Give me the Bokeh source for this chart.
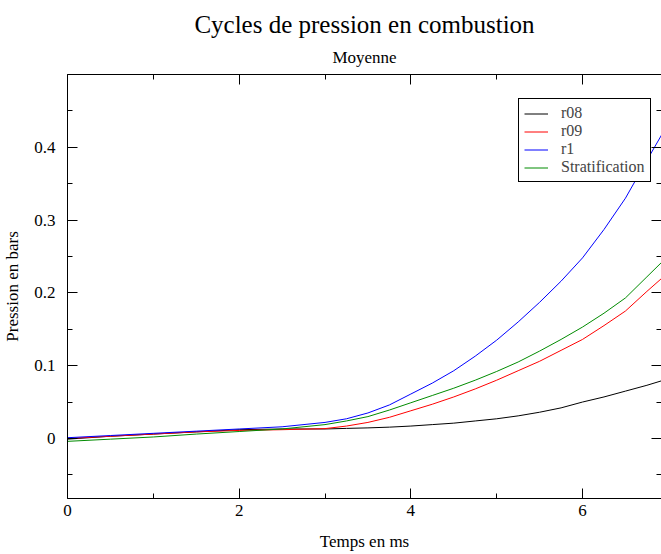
from bokeh.plotting import figure
from bokeh.models import (Range1d, LinearAxis, Title, SingleIntervalTicker,
                          CustomJSTickFormatter, BasicTickFormatter, Legend, LegendItem)
from bokeh.embed import file_html
from bokeh.resources import INLINE

# ---- data ----
time_ms = [0, 0.5, 1, 1.5, 2, 2.5, 3, 3.25, 3.5, 3.75, 4, 4.25, 4.5, 4.75, 5,
           5.25, 5.5, 5.75, 6, 6.25, 6.5, 6.75, 7.0]
r08 = [-0.001, 0.003, 0.006, 0.009, 0.012, 0.013, 0.013, 0.0138, 0.0145, 0.0155, 0.017, 0.019,
       0.021, 0.024, 0.027, 0.031, 0.036, 0.042, 0.050, 0.057, 0.065, 0.073, 0.082]
r09 = [0.000, 0.003, 0.006, 0.009, 0.011, 0.012, 0.0135, 0.017, 0.022, 0.029, 0.038, 0.047,
       0.057, 0.068, 0.080, 0.093, 0.106, 0.121, 0.136, 0.155, 0.175, 0.202, 0.228]
r1 = [0.001, 0.004, 0.007, 0.010, 0.013, 0.016, 0.022, 0.027, 0.035, 0.046, 0.061, 0.076,
      0.093, 0.113, 0.135, 0.160, 0.187, 0.216, 0.248, 0.287, 0.330, 0.382, 0.433]
stratification = [-0.004, -0.001, 0.002, 0.006, 0.0095, 0.013, 0.019, 0.024, 0.030, 0.039, 0.049,
                  0.059, 0.069, 0.080, 0.092, 0.105, 0.120, 0.136, 0.153, 0.172, 0.193, 0.222, 0.251]

series_names = ["r08", "r09", "r1", "Stratification"]
series_colors = ["black", "#ff0000", "#0000ff", "#008b00"]

title_text = "Cycles de pression en combustion"
subtitle_text = "Moyenne"
x_label = "Temps en ms"
y_label = "Pression en bars"

FONT = "Liberation Serif"
TICK_FONT = "Liberation Serif"

p = figure(width=661, height=554, output_backend="svg", toolbar_location=None,
           x_range=Range1d(0, 6.92), y_range=Range1d(-0.0825, 0.4999),
           title=None, min_border_left=60, min_border_right=0,
           min_border_top=74, min_border_bottom=56)
p.grid.visible = False
p.outline_line_color = None
p.background_fill_color = "white"
p.border_fill_color = "white"

blank = CustomJSTickFormatter(code="return '';")

def style_axis(ax, show_labels=True, show_line=True):
    ax.major_tick_in = 10
    ax.major_tick_out = 0
    ax.minor_tick_in = 5
    ax.minor_tick_out = 0
    ax.major_tick_line_color = "black"
    ax.minor_tick_line_color = "black"
    ax.axis_line_color = "black" if show_line else None
    ax.major_label_text_font = TICK_FONT
    ax.major_label_text_font_style = "normal"
    ax.major_label_text_color = "black"
    ax.major_label_text_font_size = "17px"
    ax.axis_label_text_font = FONT
    ax.axis_label_text_font_size = "17px"
    ax.axis_label_text_font_style = "normal"
    ax.axis_label_text_color = "black"
    if not show_labels:
        ax.formatter = blank
        ax.major_label_standoff = 0
        ax.axis_label_standoff = 0

xa = p.xaxis[0]
ya = p.yaxis[0]
xa.ticker = SingleIntervalTicker(interval=2, num_minor_ticks=2)
ya.ticker = SingleIntervalTicker(interval=0.1, num_minor_ticks=2)
style_axis(xa)
style_axis(ya)
xa.formatter = BasicTickFormatter()
ya.formatter = BasicTickFormatter(precision=1)
ya.major_label_overrides = {0: "0"}
xa.axis_label = x_label
ya.axis_label = y_label
xa.major_label_standoff = 6
xa.axis_label_standoff = 13
ya.major_label_standoff = 12
ya.axis_label_standoff = 9

top_ax = LinearAxis(ticker=SingleIntervalTicker(interval=2, num_minor_ticks=2))
style_axis(top_ax, show_labels=False)
right_ax = LinearAxis(ticker=SingleIntervalTicker(interval=0.1, num_minor_ticks=2))
style_axis(right_ax, show_labels=False, show_line=False)
p.add_layout(top_ax, "above")
p.add_layout(right_ax, "right")

sub = Title(text=subtitle_text, align="center", text_font=FONT, text_color="black",
            text_font_size="17px", text_font_style="normal", standoff=15)
main = Title(text=title_text, align="center", text_font=FONT, text_color="black",
             text_font_size="25px", text_font_style="normal", standoff=2)
p.add_layout(sub, "above")
p.add_layout(main, "above")

renderers = []
for ys, c in zip([r08, r09, r1, stratification], series_colors):
    renderers.append(p.line(time_ms, ys, line_color=c, line_width=1))

legend = Legend(items=[LegendItem(label=n, renderers=[r]) for n, r in zip(series_names, renderers)],
                location=(451, 316), margin=0, padding=5, spacing=0,
                glyph_width=24, glyph_height=17, label_height=17, label_standoff=13,
                label_text_font=FONT, label_text_font_size="16px",
                border_line_color="black", border_line_width=1, border_line_alpha=1,
                background_fill_color="white", background_fill_alpha=1)
p.add_layout(legend)

open("out.html", "w").write(file_html(p, INLINE))
